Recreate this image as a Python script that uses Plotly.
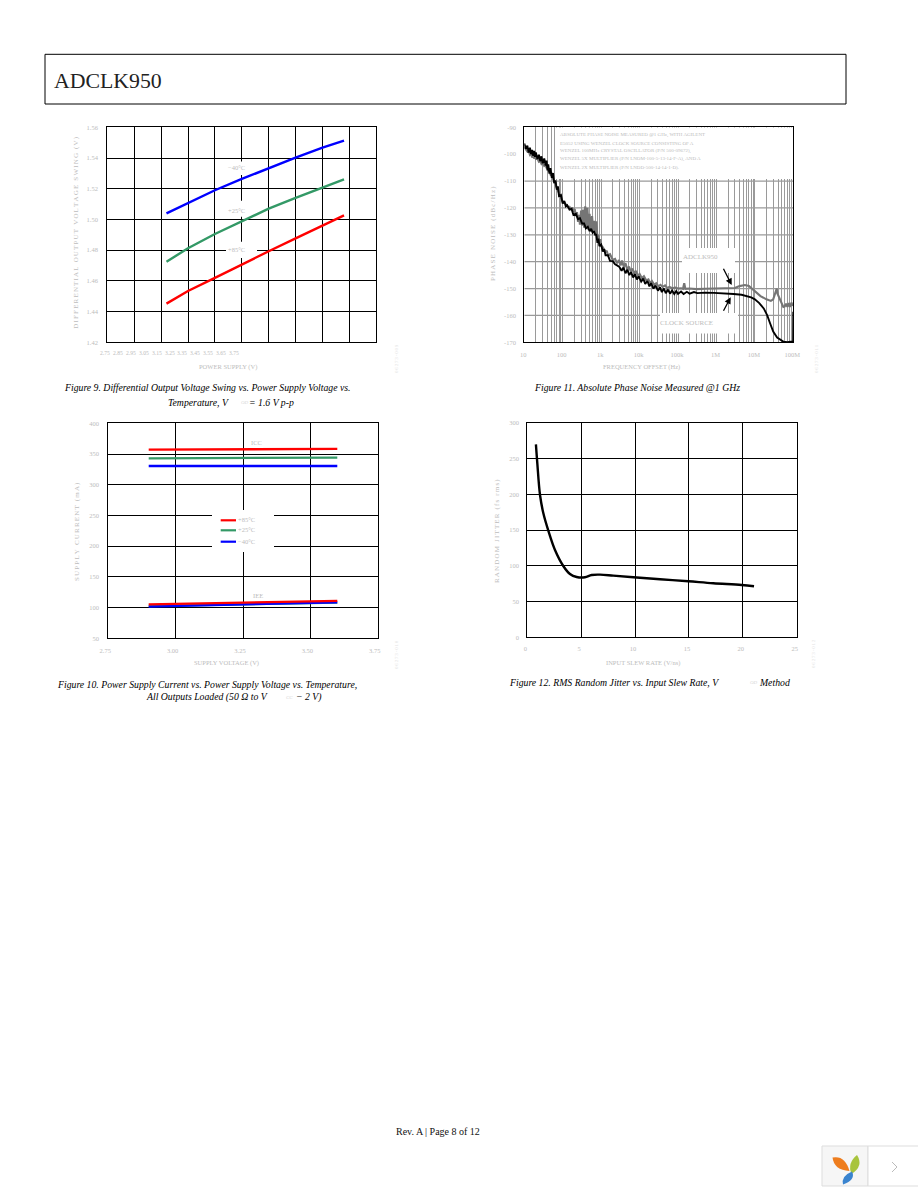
import plotly.graph_objects as go

W, H = 918, 1188
BLACK = "#000000"
LABEL = "#bcbcbc"
GRID2 = "#9a9a9a"
SERIF = "Liberation Serif"
RED, GREEN, BLUE = "#ff0000", "#339966", "#0000ff"

# ---------- Figure 9 ----------
f9_x = [2.97, 3.05, 3.15, 3.25, 3.35, 3.45, 3.55, 3.63]
f9_m40 = [1.5040, 1.5109, 1.5190, 1.5264, 1.5335, 1.5402, 1.5468, 1.5513]
f9_p25 = [1.4725, 1.4812, 1.4905, 1.4990, 1.5070, 1.5140, 1.5207, 1.5261]
f9_p85 = [1.4452, 1.4534, 1.4619, 1.4708, 1.4793, 1.4877, 1.4960, 1.5027]
f9_yticks = [1.42, 1.44, 1.46, 1.48, 1.50, 1.52, 1.54, 1.56]
f9_xlabels = ["2.75", "2.85", "2.95", "3.05", "3.15", "3.25", "3.35", "3.45", "3.55", "3.65", "3.75"]

# ---------- Figure 10 ----------
f10_x = [2.90, 3.25, 3.60]
f10_icc_p85 = [357.0, 357.6, 358.3]
f10_icc_p25 = [343.0, 343.2, 344.0]
f10_icc_m40 = [330.5, 330.5, 330.5]
f10_iee_p85 = [105.3, 108.0, 110.8]
f10_iee_p25 = [102.6, 105.4, 108.0]
f10_iee_m40 = [101.6, 105.0, 108.6]
f10_yticks = [50, 100, 150, 200, 250, 300, 350, 400]
f10_xticks = [2.75, 3.00, 3.25, 3.50, 3.75]

# ---------- Figure 11 ----------
f11_black_f = [10, 11, 12, 13, 14, 15, 16, 17, 18, 19, 20, 22, 24, 26, 28, 30, 33, 36, 38, 40, 42, 45, 48, 52, 56, 60, 65, 70, 75, 80, 90, 100,
               110, 120, 130, 150, 170, 190, 220, 250, 280, 320, 360, 400, 450, 500, 550, 600, 650, 700, 750, 800, 850, 900, 1000, 1100, 1200, 1300, 1500, 1700,
               2000, 2300, 2600, 3000, 3400, 3800, 4300, 4800, 5400, 6000, 6800, 7600, 8500, 9500, 11000, 12500, 14000, 16000, 18000, 20000, 23000, 26000, 30000, 34000,
               38000, 43000, 48000, 55000, 62000, 70000, 80000, 90000, 100000, 120000, 140000, 170000, 200000, 260000, 320000, 500000, 860000, 1500000, 2800000, 4500000,
               6300000, 8000000, 10000000, 13000000, 17000000, 21000000, 25000000, 30000000, 38000000, 45000000, 56000000, 70000000, 85000000, 95000000, 99000000, 100000000]
f11_black_v = [-96.0, -98.0, -96.8, -99.4, -97.6, -100.0, -98.4, -100.6, -98.8, -101.0, -99.4, -101.8, -100.2, -102.6, -100.8, -103.4, -101.6, -104.2, -102.4, -106.0, -103.8, -107.2, -105.2, -108.8, -107.0, -110.8, -109.8, -113.2, -112.0, -115.6, -115.2, -118.4,
               -117.4, -119.4, -119.0, -120.6, -120.4, -122.6, -122.2, -124.2, -123.8, -125.8, -125.8, -127.6, -127.0, -128.6, -127.8, -129.2, -128.6, -130.0, -130.0, -133.0, -131.4, -134.2, -133.6, -136.2, -135.4, -137.6, -137.6, -139.7,
               -139.8, -141.0, -141.4, -142.0, -143.4, -142.2, -144.3, -143.0, -145.0, -143.9, -145.9, -144.7, -146.6, -145.5, -147.4, -146.3, -148.3, -147.2, -149.2, -148.0, -150.0, -148.9, -150.8, -149.6,
               -151.3, -150.0, -151.7, -150.4, -151.9, -150.7, -152.0, -150.9, -152.0, -151.1, -152.0, -151.2, -151.9, -151.3, -151.7, -151.5, -151.6, -151.7, -152.0, -152.3,
               -152.8, -153.3, -154.0, -155.4, -157.4, -160.0, -163.0, -166.0, -168.2, -169.0, -169.8, -170.0, -169.9, -169.7, -169.5, -158.6]
f11_grey_f = [10, 11, 12, 13, 14, 15, 16, 17, 18, 19, 20, 22, 24, 26, 28, 30, 33, 36, 38, 40, 42, 45, 48, 52, 56, 60, 65, 70, 75, 80, 90, 100,
              110, 120, 130, 140, 150, 165, 175, 190, 205, 220, 235, 250, 265, 280, 300, 320, 340, 360, 385, 410, 440, 470, 500, 540, 580, 620, 660, 700, 750, 800, 850, 900, 950, 1000,
              1100, 1200, 1300, 1400, 1500, 1700, 2000, 2300, 2600, 2900, 3200, 3500, 3900, 4300, 4800, 5300, 5900, 6500, 7300, 8000, 9000, 10000,
              11500, 13000, 15000, 17000, 19000, 21000, 24000, 27000, 31000, 35000, 40000, 46000, 52000, 60000, 70000, 85000, 100000, 120000, 135000, 145000, 155000, 200000, 300000, 500000,
              1000000, 2000000, 3000000, 4000000, 5500000, 7000000, 9000000, 11000000, 14000000, 20000000, 26000000, 30000000, 34000000, 37000000, 39000000, 42000000, 46000000, 50000000,
              55000000, 60000000, 65000000, 70000000, 76000000, 82000000, 90000000, 95000000, 100000000]
f11_grey_v = [-97.4, -98.4, -99.0, -98.6, -100.2, -99.8, -101.2, -100.6, -101.6, -101.0, -101.8, -101.6, -102.8, -102.5, -103.6, -103.2, -104.4, -104.0, -105.2, -104.8, -106.2, -105.9, -107.6, -108.0, -109.6, -110.2, -111.4, -112.4, -113.6, -114.2, -116.2, -117.8,
              -118.0, -118.6, -119.0, -119.6, -119.6, -120.6, -119.8, -121.4, -120.4, -123.0, -121.6, -125.2, -122.6, -126.2, -121.0, -126.6, -120.6, -127.4, -119.4, -127.0, -120.0, -128.2, -122.2, -128.8, -123.0, -128.4, -124.8, -130.0, -125.0, -131.2, -130.0, -133.2, -131.6, -134.0,
              -134.6, -135.4, -136.4, -135.9, -137.6, -137.2, -139.4, -139.0, -140.6, -139.4, -141.4, -139.6, -142.0, -140.6, -143.0, -141.8, -143.6, -142.6, -144.6, -143.4, -145.2, -144.6,
              -146.2, -145.4, -147.0, -146.6, -148.0, -147.2, -148.6, -148.0, -149.2, -148.6, -149.4, -148.8, -149.8, -149.4, -149.9, -149.6, -150.0, -149.9, -150.1, -148.0, -150.1, -150.0, -150.2, -150.1,
              -150.0, -150.0, -149.8, -149.1, -148.7, -149.0, -150.4, -151.6, -152.8, -154.0, -154.6, -154.0, -151.5, -150.0, -152.0, -153.0, -154.6, -156.0,
              -156.8, -156.6, -155.6, -156.8, -155.4, -156.8, -155.2, -156.4, -155.8]
f11_yticks = [-170, -160, -150, -140, -130, -120, -110, -100, -90]
f11_ygrid = [-160, -150, -140, -130, -120, -110]
f11_decades = [10, 100, 1000, 10000, 100000, 1000000, 10000000, 100000000]
f11_xlabels = ["10", "100", "1k", "10k", "100k", "1M", "10M", "100M"]
f11_note = ["ABSOLUTE PHASE NOISE MEASURED @1 GHz, WITH AGILENT",
            "E5052 USING WENZEL CLOCK SOURCE CONSISTING OF A",
            "WENZEL 100MHz CRYSTAL OSCILLATOR (P/N 500-09672),",
            "WENZEL 5X MULTIPLIER (P/N LNOM-100-5-13-14-F-A), AND A",
            "WENZEL 2X MULTIPLIER (P/N LNDD-500-14-14-1-D)."]

# ---------- Figure 12 ----------
f12_x = [0.80, 0.93, 1.18, 1.49, 1.95, 2.57, 3.34, 3.96, 4.58, 5.35, 5.97, 6.75, 7.98, 9.84, 12.31, 14.94, 17.26, 19.89, 21.04]
f12_y = [269.7, 243.2, 198.9, 173.3, 149.1, 122.0, 99.7, 88.5, 84.3, 83.9, 87.1, 87.6, 86.2, 83.9, 81.1, 78.3, 75.5, 73.2, 71.3]
f12_yticks = [0, 50, 100, 150, 200, 250, 300]
f12_xticks = [0, 5, 10, 15, 20, 25]


def px(x):
    return x / W


def py(y):
    return 1 - y / H


def spaced(s):
    return "\u200a\u200a".join(s)


annotations = []
shapes = []


def text(x, y, s, size=6.5, color=LABEL, anchor="center", angle=0, italic=False, family=SERIF):
    annotations.append(dict(
        x=px(x - 3 if anchor == "left" else x), y=py(y), xref="paper", yref="paper", text=s, showarrow=False,
        xanchor=anchor, yanchor="middle", textangle=angle,
        font=dict(family=family, size=size, color=color, style="italic" if italic else "normal"),
    ))


def page_rect(x0, y0, x1, y1, fill="rgba(0,0,0,0)", line=None, width=1, layer="above"):
    shapes.append(dict(type="rect", xref="paper", yref="paper", layer=layer,
                       x0=px(x0), x1=px(x1), y0=py(y0), y1=py(y1), fillcolor=fill,
                       line=dict(color=line or "rgba(0,0,0,0)", width=width)))


BOX9 = (107.3, 127.3, 376.3, 342.3)
BOX11 = (524.3, 127.3, 793.3, 342.3)
BOX10 = (108.3, 423.3, 377.7, 638.3)
BOX12 = (527.3, 422.7, 796.7, 637.3)
RANGES = {1: (BOX9, 2.75, 3.75, 1.42, 1.56, False), 2: (BOX11, 1, 8, -170, -90, True),
          3: (BOX10, 2.75, 3.75, 50, 400, False)}


def white_box(ax, x0, y0, x1, y1):
    """white patch over the grid but under the traces (page pixels, converted through the axis range)"""
    (L, T, R, B), xa, xb, ya, yb, is_log = RANGES[ax]

    def dx(v):
        val = xa + (v - L) / (R - L) * (xb - xa)
        return 10 ** val if is_log else val

    def dy(v):
        return ya + (B - v) / (B - T) * (yb - ya)

    suffix = "" if ax == 1 else str(ax)
    shapes.append(dict(type="rect", layer="between", xref=f"x{suffix}", yref=f"y{suffix}",
                       x0=dx(x0), x1=dx(x1), y0=dy(y1), y1=dy(y0),
                       fillcolor="white", line=dict(width=0)))


def axes(box, xcfg, ycfg):
    L, T, R, B = box
    common = dict(showline=True, linecolor=BLACK, linewidth=1.2, mirror=True, zeroline=False,
                  ticks="outside", tickcolor="rgba(0,0,0,0)",
                  tickfont=dict(family=SERIF, size=6.5, color=LABEL))
    x = dict(common, domain=[px(L), px(R)], gridcolor=BLACK, gridwidth=1.2, showgrid=True, **xcfg)
    y = dict(common, domain=[py(B), py(T)], gridcolor=BLACK, gridwidth=1.2, showgrid=True, **ycfg)
    return x, y


fig = go.Figure()


def line(x, y, color, ax, width=2.4, shape="linear"):
    fig.add_trace(go.Scatter(x=x, y=y, mode="lines", xaxis=f"x{ax}", yaxis=f"y{ax}",
                             line=dict(color=color, width=width, shape=shape),
                             showlegend=False, hoverinfo="skip"))


# Figure 9
line(f9_x, f9_m40, BLUE, 1)
line(f9_x, f9_p25, GREEN, 1)
line(f9_x, f9_p85, RED, 1)
# Figure 11
line(f11_grey_f, f11_grey_v, "#757575", 2, width=2.1)
line(f11_black_f, f11_black_v, BLACK, 2, width=1.9)
# Figure 10
line(f10_x, f10_icc_p85, RED, 3, width=2.3)
line(f10_x, f10_icc_p25, GREEN, 3, width=2.3)
line(f10_x, f10_icc_m40, BLUE, 3, width=2.3)
line(f10_x, f10_iee_p25, GREEN, 3, width=2.3)
line(f10_x, f10_iee_m40, BLUE, 3, width=2.3)
line(f10_x, f10_iee_p85, RED, 3, width=2.3)
# Figure 12
line(f12_x, f12_y, BLACK, 4, width=2.4, shape="spline")

# Axes
x1, y1 = axes(BOX9,
              dict(range=[2.75, 3.75], dtick=0.1, tick0=2.75, showticklabels=False, ticklen=0, anchor="y"),
              dict(range=[1.42, 1.56], tickvals=f9_yticks, ticktext=[f"{v:.2f}" for v in f9_yticks], ticklen=7, anchor="x"))
minor = [d * m for d in f11_decades[:-1] for m in range(1, 10)] + [f11_decades[-1]]
labels = dict(zip(f11_decades, f11_xlabels))
x2, y2 = axes(BOX11,
              dict(type="log", range=[1, 8], tickvals=minor, ticktext=[labels.get(v, "") for v in minor],
                   ticklen=6, ticklabelshift=-1, anchor="y2", tickangle=0),
              dict(range=[-170, -90], tickvals=f11_yticks, ticktext=[str(v) for v in f11_yticks], ticklen=6, anchor="x2"))
x2.update(gridcolor=GRID2, gridwidth=1.4)
y2.update(showgrid=False)
x3, y3 = axes(BOX10,
              dict(range=[2.75, 3.75], tickvals=f10_xticks, ticktext=[f"{v:.2f}" for v in f10_xticks],
                   ticklen=6, ticklabelshift=-3, anchor="y3"),
              dict(range=[50, 400], tickvals=f10_yticks, ticktext=[str(v) for v in f10_yticks], ticklen=7, anchor="x3"))
x4, y4 = axes(BOX12,
              dict(range=[0, 25], tickvals=f12_xticks, ticktext=[str(v) for v in f12_xticks],
                   ticklen=5, ticklabelshift=-2, anchor="y4"),
              dict(range=[0, 300], tickvals=f12_yticks, ticktext=[str(v) for v in f12_yticks], ticklen=6, anchor="x4"))

# Figure 11 horizontal grid (no line at -100)
for v in f11_ygrid:
    shapes.append(dict(type="line", layer="between", xref="x2", yref="y2", x0=f11_decades[0], x1=f11_decades[-1],
                       y0=v, y1=v, line=dict(color=GRID2, width=1.3)))

# White patches
white_box(1, 226, 161.5, 257, 175)
white_box(1, 226, 200.7, 257, 216.7)
white_box(1, 226, 241.7, 257, 258)
white_box(2, 556, 127.3, 793.3, 179)
white_box(2, 682, 248, 735, 273)
white_box(2, 660, 313, 738, 333.5)
white_box(3, 212, 510, 274, 552)

# Figure 9 labels
for i, lab in enumerate(f9_xlabels):
    text(105 + i * 12.9, 353, lab, size=5.6)
text(227.7, 366.7, "POWER SUPPLY (V)")
text(75.7, 233, spaced("DIFFERENTIAL OUTPUT VOLTAGE SWING (V)"), size=7, angle=-90)
text(236, 167.3, "\u221240\u00b0C")
text(236, 210, "+25\u00b0C")
text(236, 250, "+85\u00b0C")

# Figure 11 labels
text(641.7, 366.7, "FREQUENCY OFFSET (Hz)", size=6.5)
text(493, 234, spaced("PHASE NOISE (dBc/Hz)"), size=7, angle=-90)
for i, s in enumerate(f11_note):
    text(561, 135 + i * 8.1, s, size=5, anchor="left")
text(700, 256.7, "ADCLK950", size=7)
text(686.7, 323.3, "CLOCK SOURCE", size=7)
for head, tail in [((731.7, 285), (722.7, 267.3)), ((730.7, 297.3), (722.7, 312.3))]:
    annotations.append(dict(x=px(head[0]), y=py(head[1]), xref="paper", yref="paper",
                            ax=tail[0] - head[0], ay=tail[1] - head[1], text="", showarrow=True,
                            arrowhead=2, arrowsize=1, arrowwidth=1.3, arrowcolor=BLACK))

# Figure 10 labels
text(226, 663, "SUPPLY VOLTAGE (V)")
text(77, 532, spaced("SUPPLY CURRENT (mA)"), size=7, angle=-90)
text(256.7, 442, "ICC")
text(258, 595, "IEE")
for yy, col, lab in [(520.3, RED, "+85\u00b0C"), (530.3, GREEN, "+25\u00b0C"), (541.7, BLUE, "\u221240\u00b0C")]:
    shapes.append(dict(type="line", xref="paper", yref="paper", layer="above",
                       x0=px(220.7), x1=px(236), y0=py(yy), y1=py(yy), line=dict(color=col, width=2.2)))
    text(239.3, yy - 0.5, lab, anchor="left")

# Figure 12 labels
text(643, 662.7, "INPUT SLEW RATE (V/ns)")
text(497, 531, spaced("RANDOM JITTER (fs rms)"), size=7, angle=-90)

# Faint figure codes
for x, yc, code in [(397, 359, "06273-009"), (817, 359, "06273-011"), (396, 655, "06273-010"), (813, 654, "06273-012")]:
    text(x, yc, spaced(code), size=5, color="#e4e4e4", angle=-90)

# Captions
CAP = dict(size=9.75, color="#000000", italic=True)
text(65, 388, "Figure 9. Differential Output Voltage Swing vs. Power Supply Voltage vs.", anchor="left", **CAP)
text(169, 402, "Temperature, V", anchor="left", **CAP)
text(242, 402.5, "OD", anchor="left", size=5, color="#d8d8d8", italic=True)
text(250, 402, "= 1.6 V p-p", anchor="left", **CAP)
text(535, 388, "Figure 11. Absolute Phase Noise Measured @1 GHz", anchor="left", **CAP)
text(58, 684, "Figure 10. Power Supply Current vs. Power Supply Voltage vs. Temperature,", anchor="left", **CAP)
text(147, 697, "All Outputs Loaded (50 \u03a9 to V", anchor="left", **CAP)
text(287, 697.5, "CC", anchor="left", size=5, color="#d8d8d8", italic=True)
text(297, 697, "\u2212 2 V)", anchor="left", **CAP)
text(510, 682, "Figure 12. RMS Random Jitter vs. Input Slew Rate, V", anchor="left", **CAP)
text(751, 682.5, "OD", anchor="left", size=5, color="#d8d8d8", italic=True)
text(760, 682, "Method", anchor="left", **CAP)

# Page header and footer
page_rect(45, 54.3, 846, 104, line=BLACK, width=1)
text(54.5, 81, "ADCLK950", size=21.8, color="#222222", anchor="left")
text(437.5, 1131, "Rev. A | Page 8 of 12", size=10, color="#111111")

# Corner widget
page_rect(822, 1146, 868, 1186, fill="#f6f6f6", line="#dddddd")
page_rect(868, 1146, 919, 1186, fill="#ffffff", line="#dddddd")


def petal(points, color):
    d = ""
    for cmd, *vals in points:
        d += cmd + " ".join(f"{px(vals[j])},{py(vals[j + 1])}" for j in range(0, len(vals), 2)) + " "
    shapes.append(dict(type="path", xref="paper", yref="paper", layer="above",
                       path=d + "Z", fillcolor=color, line=dict(width=0)))


petal([("M", 832.5, 1157.5), ("Q", 845, 1155, 849.5, 1171), ("Q", 834, 1170, 832.5, 1157.5)], "#ee7d1e")
petal([("M", 857, 1155), ("Q", 864, 1166, 851.5, 1174), ("Q", 847, 1163, 857, 1155)], "#a8c43c")
petal([("M", 852, 1171.5), ("Q", 856, 1180, 843, 1184.5), ("Q", 841, 1176, 852, 1171.5)], "#3a84cf")
shapes.append(dict(type="path", xref="paper", yref="paper", layer="above",
                   path=f"M{px(892)},{py(1162)} L{px(897)},{py(1167)} L{px(892)},{py(1172)}",
                   line=dict(color="#bbbbbb", width=1)))

fig.update_layout(
    width=W, height=H, margin=dict(l=0, r=0, t=0, b=0, pad=0, autoexpand=False),
    paper_bgcolor="white", plot_bgcolor="white", showlegend=False,
    xaxis=x1, yaxis=y1, xaxis2=x2, yaxis2=y2, xaxis3=x3, yaxis3=y3, xaxis4=x4, yaxis4=y4,
    shapes=shapes, annotations=annotations,
)

fig.write_html("out.html", config=dict(displayModeBar=False),
               post_script="document.body.style.margin='0';document.body.style.overflow='hidden';")
